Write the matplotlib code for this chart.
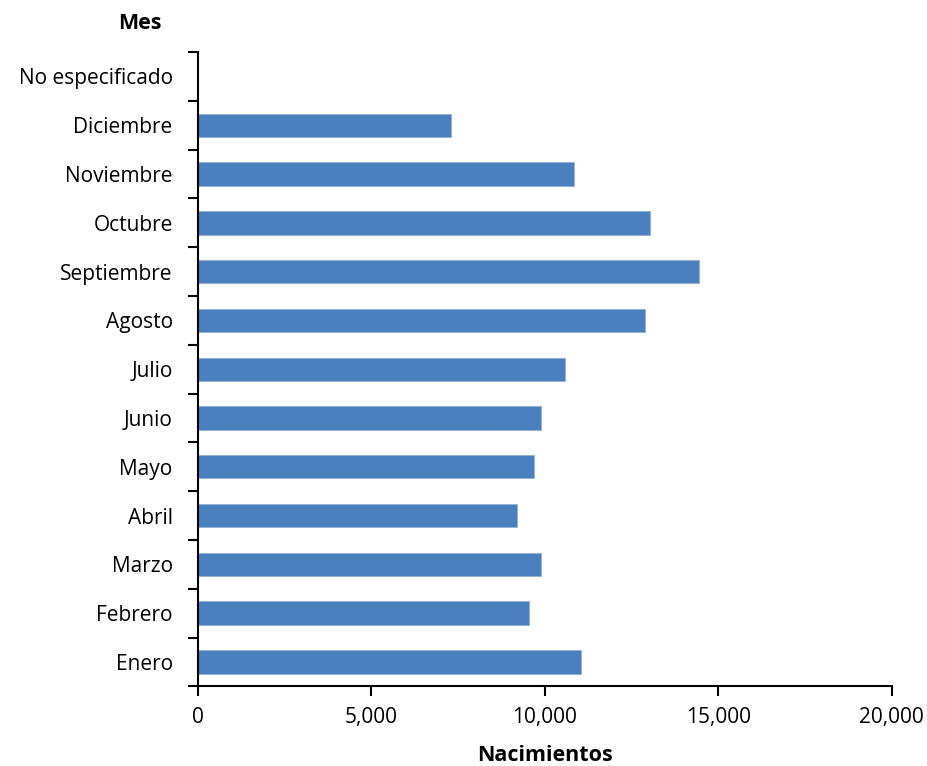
import numpy as np
import matplotlib.pyplot as plt
from matplotlib.ticker import FuncFormatter, FixedLocator

plt.rcParams['font.family'] = ['Open Sans', 'DejaVu Sans']

meses = ["Enero", "Febrero", "Marzo", "Abril", "Mayo", "Junio", "Julio",
         "Agosto", "Septiembre", "Octubre", "Noviembre", "Diciembre", "No especificado"]
nacimientos = [11050, 9550, 9890, 9210, 9690, 9890, 10580,
               12890, 14450, 13030, 10850, 7310, 0]

fig, ax = plt.subplots(figsize=(9.28, 7.66), dpi=100)
fig.subplots_adjust(left=0.213, right=0.961, top=0.932, bottom=0.104)

y = np.arange(len(meses))
ax.barh(y, nacimientos, height=0.48, color="#4a80be", edgecolor="#8fb0d8", linewidth=0.6)

ax.set_xlim(0, 20000)
ax.set_ylim(-0.5, len(meses) - 0.5)
ax.set_xticks([0, 5000, 10000, 15000, 20000])
ax.xaxis.set_major_formatter(FuncFormatter(lambda v, p: f"{int(v):,}"))
ax.set_yticks(y)
ax.set_yticklabels(meses)
ax.tick_params(axis='y', which='major', length=0, pad=18, labelsize=15)
ax.yaxis.set_minor_locator(FixedLocator(np.arange(-0.5, len(meses), 1)))
ax.tick_params(axis='y', which='minor', length=7, width=1.5, direction='out')
ax.tick_params(axis='x', length=7, width=1.5, direction='out', labelsize=15, pad=8)

for s in ["top", "right"]:
    ax.spines[s].set_visible(False)
for s in ["left", "bottom"]:
    ax.spines[s].set_linewidth(1.5)

ax.set_xlabel("Nacimientos", fontsize=15.5, fontweight="bold", labelpad=12)
fig.text(0.151, 0.969, "Mes", fontsize=15.5, fontweight="bold", ha="center", va="center")

plt.savefig("out.png")
